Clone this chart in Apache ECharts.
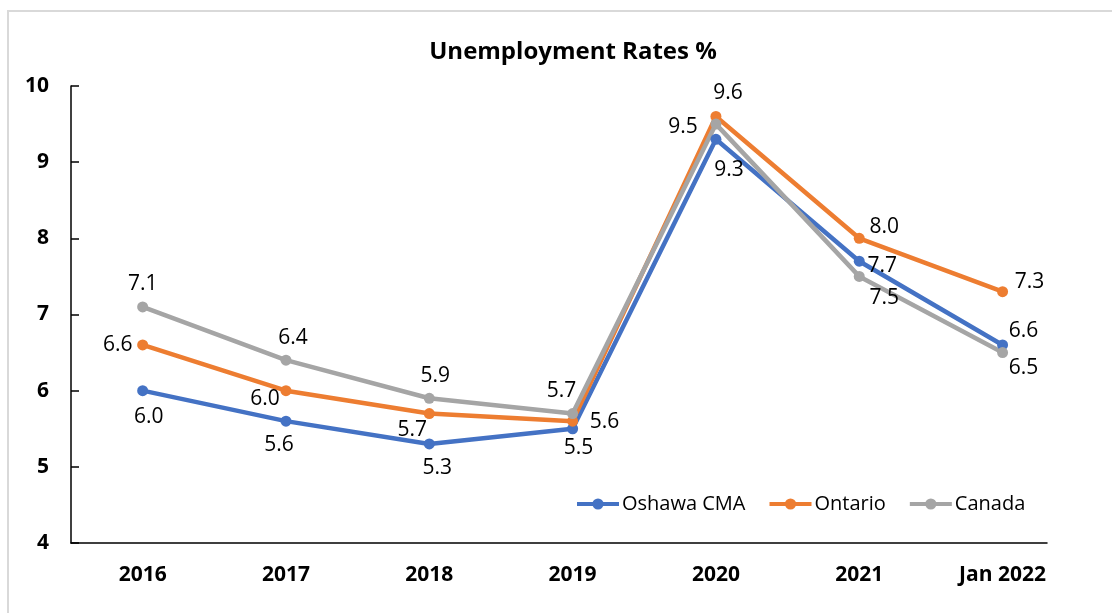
<!DOCTYPE html>
<html>
<head>
<meta charset="utf-8">
<script src="https://cdn.jsdelivr.net/npm/echarts@6/dist/echarts.min.js"></script>
<style>
  html, body { margin: 0; padding: 0; background: #fff; overflow: hidden; }
  #frame { position: absolute; left: 7px; top: 10px; width: 1200px; height: 700px;
           border-top: 2px solid #d9d9d9; border-left: 2px solid #d9d9d9; }
  #chart { position: absolute; left: 0; top: 0; width: 1112px; height: 613px; }
</style>
</head>
<body>
<div id="frame"></div>
<div id="chart"></div>
<script>
const categories = ['2016', '2017', '2018', '2019', '2020', '2021', 'Jan 2022'];
const oshawa  = [6.0, 5.6, 5.3, 5.5, 9.3, 7.7, 6.6];
const ontario = [6.6, 6.0, 5.7, 5.6, 9.6, 8.0, 7.3];
const canada  = [7.1, 6.4, 5.9, 5.7, 9.5, 7.5, 6.5];
const yTicks = [4, 5, 6, 7, 8, 9, 10];

// label offsets (styling only): label centre relative to the point
const oshawaLabelOffset  = [[6,26],[-7,24],[8,24],[6,19],[13,31],[23,5],[21,-14]];
const ontarioLabelOffset = [[-25,0],[-21,8],[-17,16],[32,1],[12,-23],[25,-11],[27,-10]];
const canadaLabelOffset  = [[0,-23],[7,-22],[6,-22],[-11,-23],[-33,3],[25,22],[21,15]];

const FONT = 'Open Sans';

function build(values, offsets) {
  return values.map((v, i) => ({
    value: [i, v],
    label: { position: 'inside', offset: offsets[i] }
  }));
}

function series(name, values, offsets, color) {
  return {
    name: name,
    type: 'line',
    data: build(values, offsets),
    symbol: 'circle',
    symbolSize: 11,
    lineStyle: { width: 4.5, color: color },
    itemStyle: { color: color },
    label: {
      show: true,
      fontFamily: FONT,
      fontSize: 21,
      color: '#000',
      formatter: p => p.value[1].toFixed(1)
    },
    emphasis: { disabled: true },
    animation: false
  };
}

const chart = echarts.init(document.getElementById('chart'), null, { renderer: 'canvas' });
chart.setOption({
  backgroundColor: 'transparent',
  title: {
    text: 'Unemployment Rates %',
    left: 568, textAlign: 'center', top: 35,
    textStyle: { fontFamily: FONT, fontSize: 24, fontWeight: 'bold', color: '#000' }
  },
  legend: {
    left: 575, top: 494, padding: 0,
    itemWidth: 42, itemHeight: 14, itemGap: 22,
    lineStyle: { width: 4 },
    textStyle: { fontFamily: FONT, fontSize: 20, color: '#000', padding: [0, 0, 0, -2] },
    data: ['Oshawa CMA', 'Ontario', 'Canada']
  },
  grid: { left: 71, right: 65, top: 86, bottom: 70, containLabel: false },
  xAxis: {
    type: 'value',
    min: -0.5, max: 6.31,
    splitLine: { show: false },
    axisTick: { show: false },
    axisLine: { show: true, onZero: false, lineStyle: { color: '#000', width: 1.5 } },
    axisLabel: {
      customValues: categories.map((c, i) => i),
      formatter: v => categories[Math.round(v)] || '',
      fontFamily: FONT, fontSize: 21, fontWeight: 'bold', color: '#000', margin: 22
    }
  },
  yAxis: {
    type: 'value',
    min: yTicks[0], max: yTicks[yTicks.length - 1], interval: 1,
    splitLine: { show: false },
    axisLine: { show: true, onZero: false, lineStyle: { color: '#000', width: 1.5 } },
    axisTick: { show: true, inside: true, length: 8, lineStyle: { color: '#000', width: 1.5 } },
    axisLabel: { fontFamily: FONT, fontSize: 21, fontWeight: 'bold', color: '#000', margin: 22 }
  },
  series: [
    series('Oshawa CMA', oshawa, oshawaLabelOffset, '#4472C4'),
    series('Ontario', ontario, ontarioLabelOffset, '#ED7D31'),
    series('Canada', canada, canadaLabelOffset, '#A5A5A5')
  ],
  animation: false
});
</script>
</body>
</html>
